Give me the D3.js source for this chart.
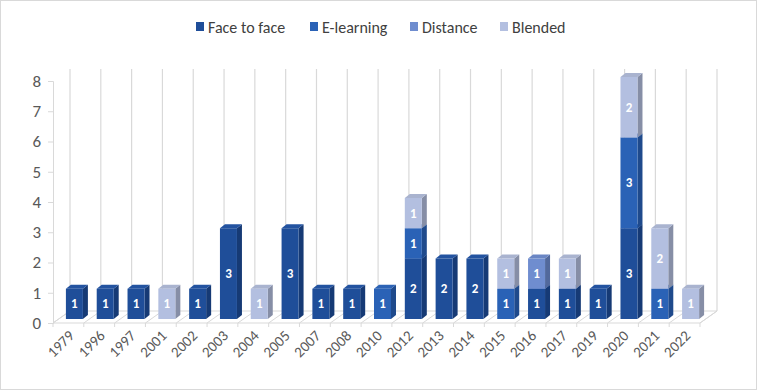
<!DOCTYPE html>
<html><head><meta charset="utf-8">
<script src="https://cdn.jsdelivr.net/npm/d3@7"></script>
<style>body{margin:0;background:#fff}svg{display:block}</style>
</head><body>
<svg id="c" width="757" height="390"></svg>
<script>
const years = ["1979","1996","1997","2001","2002","2003","2004","2005","2007","2008","2010","2012","2013","2014","2015","2016","2017","2019","2020","2021","2022"];
const faceToFace = [1,1,1,0,1,3,0,3,1,1,0,2,2,2,0,1,1,1,3,0,0];
const eLearning  = [0,0,0,0,0,0,0,0,0,0,1,1,0,0,1,0,0,0,3,1,0];
const distance   = [0,0,0,0,0,0,0,0,0,0,0,0,0,0,0,1,0,0,0,0,0];
const blended    = [0,0,0,1,0,0,1,0,0,0,0,1,0,0,1,0,1,0,2,2,1];
const seriesNames = ["Face to face","E-learning","Distance","Blended"];
const yTicks = [0,1,2,3,4,5,6,7,8];

const colors = ["#1f4e99","#2a62b6","#6f8dcf","#b3bfe0"];
const sideColors = ["#163a75","#1f4a8c","#52699c","#868ea6"];
const topColors = ["#2353a0","#2d63b5","#6a86c4","#a9b3cf"];
const seriesData = [faceToFace,eLearning,distance,blended];

const svg = d3.select("#c");
const font = "Carlito, Lato, 'Liberation Sans', sans-serif";

svg.append("rect").attr("x",0.5).attr("y",0.5).attr("width",756).attr("height",389)
  .attr("fill","#fff").attr("stroke","#d9d9d9");

const x = d3.scaleBand().domain(years).range([53,700]).paddingInner(0).paddingOuter(0);
const y = d3.scaleLinear().domain([0,8]).range([323,81]);
const DX = 17, DY = -12; // wall depth
const grid = "#d9d9d9";

// back wall vertical gridlines
const bounds = years.map(d=>x(d)).concat([x.range()[1]]);
svg.append("g").selectAll("line").data(bounds).join("line")
  .attr("x1",d=>d+DX).attr("x2",d=>d+DX)
  .attr("y1",y(8)+DY).attr("y2",y(0)+DY)
  .attr("stroke",grid).attr("stroke-width",1.2);

// floor
svg.append("path")
  .attr("d",`M${x.range()[0]},${y(0)}L${x.range()[0]+DX},${y(0)+DY}L${x.range()[1]+DX},${y(0)+DY}L${x.range()[1]},${y(0)}Z`)
  .attr("fill","none").attr("stroke",grid);
svg.append("g").selectAll("line").data(bounds).join("line")
  .attr("x1",d=>d).attr("x2",d=>d+DX).attr("y1",y(0)).attr("y2",y(0)+DY)
  .attr("stroke",grid);
svg.append("g").selectAll("line").data(bounds).join("line")
  .attr("x1",d=>d).attr("x2",d=>d).attr("y1",y(0)).attr("y2",y(0)+4)
  .attr("stroke",grid);

// y axis
const ya = svg.append("g").attr("transform",`translate(${x.range()[0]},0)`)
  .call(d3.axisLeft(y).tickValues(yTicks).tickSize(5).tickPadding(7).tickFormat(d3.format("d")));
ya.select(".domain").attr("stroke",grid);
ya.selectAll(".tick line").attr("stroke",grid);
ya.selectAll("text").attr("fill","#595959").attr("font-size",17).attr("font-family",font);

// bars
const stack = d3.stack().keys(d3.range(4)).value((d,k)=>seriesData[k][d])(d3.range(years.length));
const BW = 17, BDX = 5, BDY = -4, OFFX = 6, OFFY = -4;
const gBars = svg.append("g");
years.forEach((yr,i)=>{
  const xl = x(yr) + x.bandwidth()/2 + OFFX - BW/2;
  const g = gBars.append("g");
  for(let k=0;k<4;k++){
    const s = stack[k][i];
    if(s[1]-s[0] <= 0) continue;
    const yb = y(s[0]) + OFFY, yt = y(s[1]) + OFFY;
    g.append("path").attr("d",`M${xl+BW},${yb}L${xl+BW+BDX},${yb+BDY}L${xl+BW+BDX},${yt+BDY}L${xl+BW},${yt}Z`)
      .attr("fill",sideColors[k]);
    g.append("path").attr("d",`M${xl},${yt}L${xl+BDX},${yt+BDY}L${xl+BW+BDX},${yt+BDY}L${xl+BW},${yt}Z`)
      .attr("fill",topColors[k]);
    g.append("rect").attr("x",xl).attr("y",yt).attr("width",BW).attr("height",yb-yt)
      .attr("fill",colors[k]);
    g.append("text").attr("x",xl+BW/2).attr("y",(yt+yb)/2).attr("dy","0.35em")
      .attr("text-anchor","middle").attr("fill","#fff").attr("font-weight","bold")
      .attr("font-size",13).attr("font-family",font).text(s[1]-s[0]);
  }
});

// x labels
svg.append("g").selectAll("text").data(years).join("text")
  .attr("transform",d=>`translate(${x(d)+x.bandwidth()/2+3},${y(0)+10}) rotate(-45)`)
  .attr("text-anchor","end").attr("dy","0.35em")
  .attr("fill","#595959").attr("font-size",15).attr("font-family",font).text(d=>d);

// legend
const legX = [196,310,410,500];
const lg = svg.append("g");
seriesNames.forEach((n,k)=>{
  lg.append("rect").attr("x",legX[k]).attr("y",22).attr("width",8).attr("height",9).attr("fill",colors[k]);
  lg.append("text").attr("x",legX[k]+12).attr("y",27).attr("dy","0.35em")
    .attr("fill","#404040").attr("font-size",16).attr("font-family",font).text(n);
});
</script>
</body></html>
